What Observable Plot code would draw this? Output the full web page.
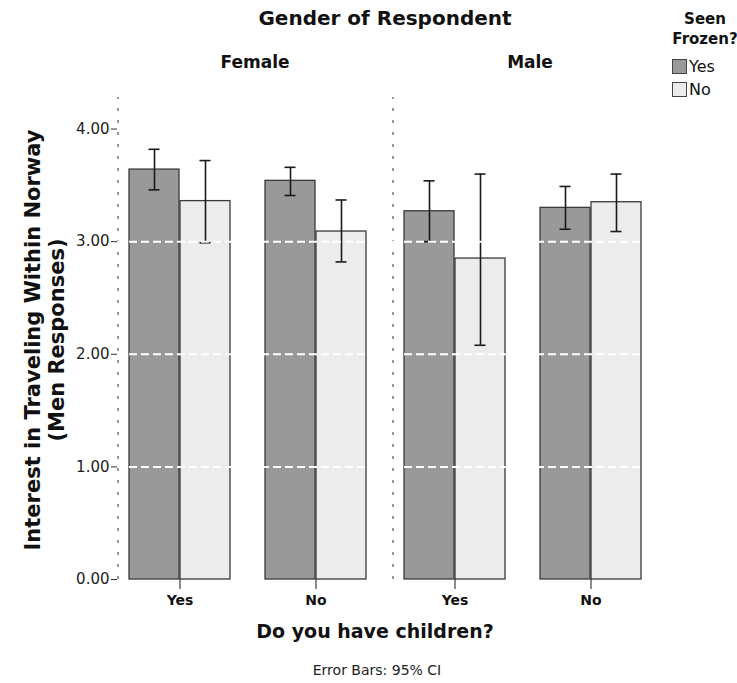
<!DOCTYPE html>
<html>
<head>
<meta charset="utf-8">
<script src="https://cdn.jsdelivr.net/npm/d3@7"></script>
<script src="https://cdn.jsdelivr.net/npm/@observablehq/plot@0.6"></script>
<style>
  body { margin: 0; background: #fff; font-family: "DejaVu Sans", sans-serif; color: #111; }
  #chart { position: relative; width: 737px; height: 683px; }
  #chart svg { position: absolute; left: 0; top: 0; }
  .lbl { position: absolute; white-space: nowrap; }
  .title { left: 0; width: 770px; top: 6px; text-align: center; font-weight: bold; font-size: 20px; }
  .xtitle { left: 0; width: 750px; top: 620px; text-align: center; font-weight: bold; font-size: 19px; }
  .caption { left: 0; width: 754px; top: 662px; text-align: center; font-size: 14px; color: #222; }
  .ytitle { left: 45px; top: 340px; transform: translate(-50%, -50%) rotate(-90deg); text-align: center; font-weight: bold; font-size: 21px; line-height: 24px; }
  .legend { left: 660px; top: 9px; width: 90px; font-size: 15px; }
  .legend .head { text-align: center; font-weight: bold; line-height: 20px; width: 90px; }
  .legend .row { display: flex; align-items: center; height: 23px; margin-left: 12px; font-size: 16px; }
  .legend .sw { width: 13px; height: 13px; border: 1px solid #444; margin-right: 2px; }
</style>
</head>
<body>
<div id="chart"></div>
<script>
// Mean interest in travelling within Norway (men's responses), with 95% CIs
const gender     = ["Female", "Female", "Female", "Female", "Male", "Male", "Male", "Male"];
const children   = ["Yes", "Yes", "No", "No", "Yes", "Yes", "No", "No"];
const seenFrozen = ["Yes", "No", "Yes", "No", "Yes", "No", "Yes", "No"];
const mean       = [3.64, 3.36, 3.54, 3.09, 3.27, 2.85, 3.30, 3.35];
const ciLow      = [3.46, 2.99, 3.41, 2.82, 3.00, 2.08, 3.11, 3.09];
const ciHigh     = [3.82, 3.72, 3.66, 3.37, 3.54, 3.60, 3.49, 3.60];

const genderDomain = ["Female", "Male"];
const childrenDomain = ["Yes", "No"];
const frozenDomain = ["Yes", "No"];
const yTicks = [0, 1, 2, 3, 4];
const gridValues = [1, 2, 3];
const yTop = 4.28;

const rows = gender.map((g, i) => ({
  gender: g, children: children[i], frozen: seenFrozen[i],
  mean: mean[i], lo: ciLow[i], hi: ciHigh[i]
}));
const yes = rows.filter(d => d.frozen === frozenDomain[0]);
const no = rows.filter(d => d.frozen === frozenDomain[1]);

// layout
const W = 737, H = 615;
const marginLeft = 117, marginRight = 70, marginTop = 97, marginBottom = 36;
const paddingInner = 0.2555, paddingOuter = 0.1314, align = 0.306;
const panelW = (W - marginLeft - marginRight) / genderDomain.length;
const step = panelW / (childrenDomain.length - paddingInner + 2 * paddingOuter);
const bw = step * (1 - paddingInner);               // width of one pair of bars
const outerStart = align * (panelW - step * (childrenDomain.length - paddingInner));
const capHalf = 6;

const darkFill = "#999999", lightFill = "#ececec", edge = "#3a3a3a", ink = "#1a1a1a";

const chart = Plot.plot({
  width: W,
  height: H,
  marginLeft, marginRight, marginTop, marginBottom,
  style: { fontFamily: "DejaVu Sans, sans-serif", background: "transparent" },
  fx: { domain: genderDomain, padding: 0, axis: null },
  x: { domain: childrenDomain, paddingInner, paddingOuter, align, axis: null },
  y: { domain: [0, yTop], axis: null },
  marks: [
    // panel separators
    Plot.ruleX(genderDomain, {
      fx: d => d, x: () => childrenDomain[0], dx: -(outerStart + bw / 2),
      y1: 0, y2: yTop, stroke: "#555", strokeWidth: 1.2, strokeDasharray: "3,9"
    }),
    // bars: "Yes" on the left half of each pair, "No" on the right half
    Plot.barY(yes, {
      fx: "gender", x: "children", y: "mean", insetRight: bw / 2,
      fill: darkFill, stroke: edge, strokeWidth: 1.3
    }),
    Plot.barY(no, {
      fx: "gender", x: "children", y: "mean", insetLeft: bw / 2,
      fill: lightFill, stroke: edge, strokeWidth: 1.3
    }),
    // error bars
    Plot.ruleX(yes, { fx: "gender", x: "children", y1: "lo", y2: "hi", dx: -bw / 4, stroke: ink, strokeWidth: 1.6 }),
    Plot.ruleX(no, { fx: "gender", x: "children", y1: "lo", y2: "hi", dx: bw / 4, stroke: ink, strokeWidth: 1.6 }),
    ...["lo", "hi"].flatMap(k => [
      Plot.tickY(yes, { fx: "gender", x: "children", y: k, insetLeft: bw / 4 - capHalf, insetRight: 3 * bw / 4 - capHalf, stroke: ink, strokeWidth: 1.6 }),
      Plot.tickY(no, { fx: "gender", x: "children", y: k, insetLeft: 3 * bw / 4 - capHalf, insetRight: bw / 4 - capHalf, stroke: ink, strokeWidth: 1.6 })
    ]),
    // dashed white reference lines
    Plot.ruleY(gridValues, { stroke: "#fff", strokeWidth: 2, strokeDasharray: "8,4" }),
    // axes
    Plot.axisY({
      anchor: "left", ticks: yTicks, tickFormat: d3.format(".2f"), tickSize: 6, tickPadding: 2,
      fontSize: 15, label: null, stroke: "#333", fill: "#222"
    }),
    Plot.axisX({
      anchor: "bottom", tickSize: 10, tickPadding: 6, fontSize: 14, fontWeight: "bold",
      label: null, stroke: ink, fill: "#111"
    }),
    // facet headers
    Plot.text(genderDomain, {
      fx: d => d, text: d => d, frameAnchor: "top", dy: -42,
      fontSize: 17, fontWeight: "bold", fill: "#111"
    })
  ]
});

const root = document.getElementById("chart");
root.appendChild(chart);

function addLabel(cls, html) {
  const el = document.createElement("div");
  el.className = "lbl " + cls;
  el.innerHTML = html;
  root.appendChild(el);
  return el;
}
addLabel("title", "Gender of Respondent");
addLabel("xtitle", "Do you have children?");
addLabel("caption", "Error Bars: 95% CI");
addLabel("ytitle", "Interest in Traveling Within Norway<br>(Men Responses)");
addLabel("legend",
  `<div class="head">Seen<br>Frozen?</div>` +
  `<div style="height:6px"></div>` +
  frozenDomain.map((f, i) =>
    `<div class="row"><span class="sw" style="background:${i === 0 ? darkFill : lightFill}"></span>${f}</div>`
  ).join(""));
</script>
</body>
</html>
